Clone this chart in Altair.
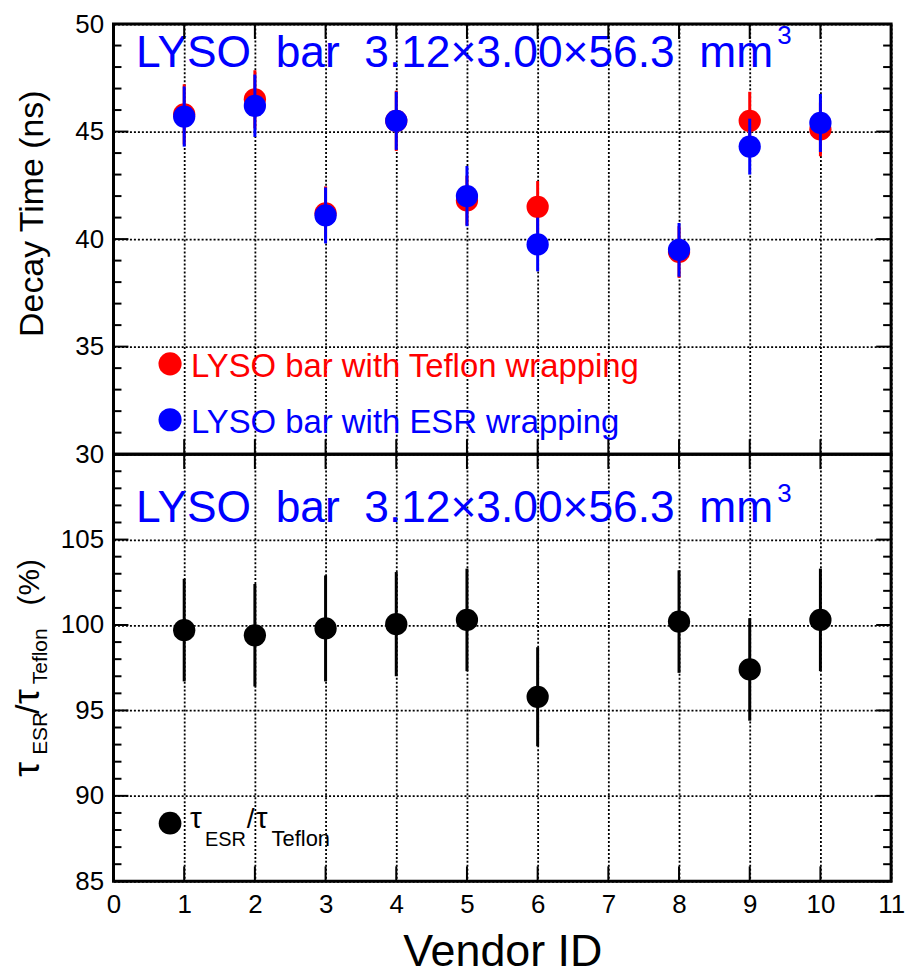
import altair as alt
import pandas as pd

# ---------------- data ----------------
vendors = [1, 2, 3, 4, 5, 6, 8, 9, 10]
teflon_tau = [45.8, 46.5, 41.2, 45.5, 41.8, 41.5, 39.4, 45.5, 45.1]
teflon_err = [1.4, 1.35, 1.25, 1.4, 1.15, 1.2, 1.2, 1.35, 1.25]
esr_tau = [45.7, 46.2, 41.1, 45.5, 42.0, 39.75, 39.5, 44.3, 45.4]
esr_err = [1.4, 1.45, 1.3, 1.35, 1.4, 1.25, 1.25, 1.3, 1.35]
ratio = [99.7, 99.4, 99.8, 100.05, 100.3, 95.8, 100.2, 97.4, 100.3]
ratio_err = [3.0, 3.0, 3.1, 3.05, 3.0, 2.9, 3.0, 3.0, 3.0]

x_ticks = list(range(0, 12))
top_y_labels = [30, 35, 40, 45, 50]
top_y_minor = [v for v in range(30, 51) if v % 5 != 0]
bot_y_labels = [85, 90, 95, 100, 105]
bot_y_major = [85, 90, 95, 100, 105, 110]
bot_y_minor = [v for v in range(85, 111) if v % 5 != 0]

title_text = "LYSO\u00a0\u00a0bar\u00a0\u00a03.12×3.00×56.3\u00a0\u00a0mm"

# ---------------- styling ----------------
FONT = "Liberation Sans"
RED = "#ff0000"
BLUE = "#0000ff"
W = 781
H1 = 432
H2 = 429
MARK_SIZE = 500

xscale = alt.Scale(domain=[0, 11], nice=False, zero=False)
ys_top = alt.Scale(domain=[30, 50], nice=False, zero=False)
ys_bot = alt.Scale(domain=[85, 110], nice=False, zero=False)

grid_kw = dict(grid=True, gridDash=[2, 2], gridColor="black", gridWidth=1.8,
               gridOpacity=1, ticks=False, domain=False)

xaxis_top = alt.Axis(values=x_ticks, labels=False, title=None, **grid_kw)
yaxis_top = alt.Axis(values=top_y_labels, labelFont=FONT, labelFontSize=26, labelColor="black",
                     labelPadding=10, title="Decay Time (ns)", titleFont=FONT, titleFontSize=34,
                     titleFontWeight="normal", titleColor="black", titleAngle=270,
                     titleX=-81, titleY=190, titleAlign="center", titleBaseline="middle",
                     **grid_kw)
xaxis_bot = alt.Axis(values=x_ticks, labelFont=FONT, labelFontSize=26, labelColor="black",
                     labelPadding=10, labelFlush=False, format="d",
                     title="Vendor ID", titleFont=FONT, titleFontSize=45,
                     titleFontWeight="normal", titleColor="black", titlePadding=13, **grid_kw)
yaxis_bot = alt.Axis(values=bot_y_labels, labelFont=FONT, labelFontSize=26, labelColor="black",
                     labelPadding=10, title=None, **grid_kw)


def one_row():
    return pd.DataFrame({"a": [0]})


def X(field, ax):
    return alt.X(field, scale=xscale, axis=ax)


def Y(field, ys, ax):
    return alt.Y(field, scale=ys, axis=ax)


def XD(v, ax):
    return alt.XDatum(v, scale=xscale, axis=ax)


def YD(v, ys, ax):
    return alt.YDatum(v, scale=ys, axis=ax)


def tick_layers(ys, xax, yax, ymajor, yminor, H):
    layers = []
    dmaj = pd.DataFrame({"v": ymajor})
    dmin = pd.DataFrame({"v": yminor})
    dx = pd.DataFrame({"v": x_ticks})
    for d, ln in ((dmaj, 15), (dmin, 8)):
        layers.append(alt.Chart(d).mark_rule(color="black", strokeWidth=2).encode(
            y=Y("v:Q", ys, yax), x=alt.value(0), x2=alt.value(ln)))
        layers.append(alt.Chart(d).mark_rule(color="black", strokeWidth=2).encode(
            y=Y("v:Q", ys, yax), x=alt.value(W), x2=alt.value(W - ln)))
    layers.append(alt.Chart(dx).mark_rule(color="black", strokeWidth=2).encode(
        x=X("v:Q", xax), y=alt.value(0), y2=alt.value(15)))
    layers.append(alt.Chart(dx).mark_rule(color="black", strokeWidth=2).encode(
        x=X("v:Q", xax), y=alt.value(H), y2=alt.value(H - 15)))
    return layers


def title_layers(ys, xax, yax, yval, sup_dy):
    t = alt.Chart(one_row()).mark_text(
        text=title_text, font=FONT, fontSize=44.5, color=BLUE, align="left",
        baseline="alphabetic").encode(x=XD(0.32, xax), y=YD(yval, ys, yax))
    s = alt.Chart(one_row()).mark_text(
        text="3", font=FONT, fontSize=26, color=BLUE, align="left", baseline="alphabetic",
        dx=644, dy=sup_dy).encode(x=XD(0.32, xax), y=YD(yval, ys, yax))
    return [t, s]


def bound_marker(x1, x2, y1, y2):
    # invisible rule that only fixes the page extent around the plot area
    return alt.Chart(one_row()).mark_rule(color="white", strokeOpacity=0, strokeWidth=0.5).encode(
        x=alt.value(x1), x2=alt.value(x2), y=alt.value(y1), y2=alt.value(y2))


# ---------------- top panel ----------------
df_top = pd.DataFrame({
    "vendor": vendors,
    "tef": teflon_tau,
    "tef_lo": [v - e for v, e in zip(teflon_tau, teflon_err)],
    "tef_hi": [v + e for v, e in zip(teflon_tau, teflon_err)],
    "esr": esr_tau,
    "esr_lo": [v - e for v, e in zip(esr_tau, esr_err)],
    "esr_hi": [v + e for v, e in zip(esr_tau, esr_err)],
})

base_top = alt.Chart(df_top)
red_rule = base_top.mark_rule(color=RED, strokeWidth=3).encode(
    x=X("vendor:Q", xaxis_top), y=Y("tef_lo:Q", ys_top, yaxis_top), y2="tef_hi:Q")
red_pt = base_top.mark_circle(color=RED, size=MARK_SIZE, opacity=1).encode(
    x=X("vendor:Q", xaxis_top), y=Y("tef:Q", ys_top, yaxis_top))
blue_rule = base_top.mark_rule(color=BLUE, strokeWidth=3).encode(
    x=X("vendor:Q", xaxis_top), y=Y("esr_lo:Q", ys_top, yaxis_top), y2="esr_hi:Q")
blue_pt = base_top.mark_circle(color=BLUE, size=MARK_SIZE, opacity=1).encode(
    x=X("vendor:Q", xaxis_top), y=Y("esr:Q", ys_top, yaxis_top))

leg_top = []
for col, yv, label in ((RED, 34.2, "LYSO bar with Teflon wrapping"),
                       (BLUE, 31.6, "LYSO bar with ESR wrapping")):
    leg_top.append(alt.Chart(one_row()).mark_circle(color=col, size=540, opacity=1).encode(
        x=XD(0.8, xaxis_top), y=YD(yv, ys_top, yaxis_top)))
    leg_top.append(alt.Chart(one_row()).mark_text(
        text=label, font=FONT, fontSize=33, color=col, align="left", baseline="alphabetic",
        dx=21, dy=13).encode(x=XD(0.8, xaxis_top), y=YD(yv, ys_top, yaxis_top)))

top = alt.layer(
    red_rule, red_pt, blue_rule, blue_pt,
    *leg_top,
    *title_layers(ys_top, xaxis_top, yaxis_top, 48.0, -23),
    *tick_layers(ys_top, xaxis_top, yaxis_top, top_y_labels, top_y_minor, H1),
    bound_marker(-112, W + 21, -20, -19.5),
).properties(width=W, height=H1)

# ---------------- bottom panel ----------------
df_bot = pd.DataFrame({
    "vendor": vendors,
    "r": ratio,
    "r_lo": [v - e for v, e in zip(ratio, ratio_err)],
    "r_hi": [v + e for v, e in zip(ratio, ratio_err)],
})

base_bot = alt.Chart(df_bot)
blk_rule = base_bot.mark_rule(color="black", strokeWidth=3).encode(
    x=X("vendor:Q", xaxis_bot), y=Y("r_lo:Q", ys_bot, yaxis_bot), y2="r_hi:Q")
blk_pt = base_bot.mark_circle(color="black", size=MARK_SIZE, opacity=1).encode(
    x=X("vendor:Q", xaxis_bot), y=Y("r:Q", ys_bot, yaxis_bot))

# legend with subscripts
leg_bot = [alt.Chart(one_row()).mark_circle(color="black", size=520, opacity=1).encode(
    x=XD(0.8, xaxis_bot), y=YD(88.4, ys_bot, yaxis_bot))]
for txt, fs, ddx, ddy in (("τ", 30, 20, 5), ("ESR", 20, 35, 23), ("/", 28, 77, 5),
                          ("τ", 30, 86, 5), ("Teflon", 22, 102, 23)):
    leg_bot.append(alt.Chart(one_row()).mark_text(
        text=txt, font=FONT, fontSize=fs, color="black", align="left", baseline="alphabetic",
        dx=ddx, dy=ddy).encode(x=XD(0.8, xaxis_bot), y=YD(88.4, ys_bot, yaxis_bot)))

# rotated y title with subscripts
ytitle = []
for txt, fs, px, py in (("τ", 38, -75, 324), ("ESR", 21, -67, 302), ("/", 34, -75, 261),
                        ("τ", 38, -75, 251), ("Teflon", 21, -67, 231), ("(%)", 30, -75, 152)):
    ytitle.append(alt.Chart(one_row()).mark_text(
        text=txt, font=FONT, fontSize=fs, color="black", align="left", baseline="alphabetic",
        angle=270).encode(x=alt.value(px), y=alt.value(py)))

bottom = alt.layer(
    blk_rule, blk_pt,
    *leg_bot,
    *ytitle,
    *title_layers(ys_bot, xaxis_bot, yaxis_bot, 106.04, -20),
    *tick_layers(ys_bot, xaxis_bot, yaxis_bot, bot_y_major, bot_y_minor, H2),
    bound_marker(0, 1, H2 + 93, H2 + 92.5),
).properties(width=W, height=H2)

chart = alt.vconcat(top, bottom, spacing=0, bounds="flush").properties(
    padding=0,
    background="white",
).configure_view(stroke="black", strokeWidth=3)

chart.save("out.html", embed_options={"renderer": "svg", "actions": False})
